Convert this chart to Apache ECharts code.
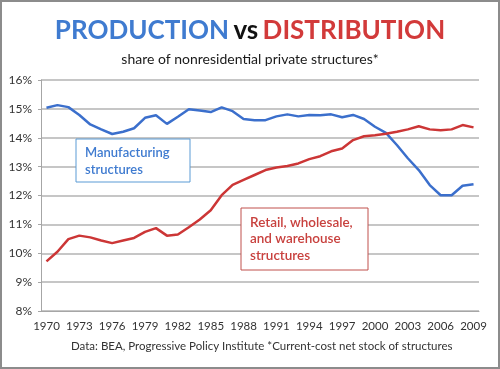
<!DOCTYPE html>
<html>
<head>
<meta charset="utf-8">
<script src="https://cdn.jsdelivr.net/npm/echarts@6/dist/echarts.min.js"></script>
<style>
html,body{margin:0;padding:0;background:#fff;}
#chart{width:500px;height:369px;}
</style>
</head>
<body>
<div id="chart"></div>
<script>
var years = [];
for (var y = 1970; y <= 2009; y++) years.push(String(y));

var manufacturing = [15.04, 15.13, 15.06, 14.79, 14.46, 14.29, 14.13, 14.21, 14.33, 14.69,
  14.78, 14.48, 14.73, 14.99, 14.94, 14.89, 15.05, 14.92, 14.65, 14.61,
  14.61, 14.74, 14.81, 14.74, 14.79, 14.78, 14.81, 14.71, 14.79, 14.65,
  14.38, 14.17, 13.75, 13.29, 12.88, 12.36, 12.01, 12.01, 12.34, 12.39];

var retail = [9.72, 10.05, 10.49, 10.61, 10.55, 10.44, 10.35, 10.44, 10.53, 10.74,
  10.87, 10.61, 10.65, 10.90, 11.17, 11.49, 12.01, 12.37, 12.54, 12.71,
  12.88, 12.97, 13.02, 13.11, 13.26, 13.36, 13.53, 13.63, 13.92, 14.05,
  14.09, 14.14, 14.21, 14.29, 14.40, 14.29, 14.26, 14.29, 14.44, 14.36];

var titleMain = ['PRODUCTION', 'vs', 'DISTRIBUTION'];
var subtitle = 'share of nonresidential private structures*';
var footer = 'Data: BEA, Progressive Policy Institute *Current-cost net stock of structures';
var labelManufacturing = 'Manufacturing\nstructures';
var labelRetail = 'Retail, wholesale,\nand warehouse\nstructures';

var FONT = 'Lato';
var BLUE = '#3b6fcc';
var RED = '#cc3636';

var chart = echarts.init(document.getElementById('chart'));
chart.setOption({
  animation: false,
  backgroundColor: '#fff',
  textStyle: { fontFamily: FONT },
  title: [{
    text: '{b|' + titleMain[0] + '} {k|' + titleMain[1] + '} {r|' + titleMain[2] + '}',
    left: 'center', top: 13,
    textStyle: {
      rich: {
        b: { fontFamily: FONT, fontWeight: 'bold', fontSize: 26, color: '#3f7bd0' },
        k: { fontFamily: FONT, fontWeight: 'bold', fontSize: 26, color: '#111' },
        r: { fontFamily: FONT, fontWeight: 'bold', fontSize: 26, color: '#d23a3a' }
      }
    }
  }, {
    text: subtitle, left: 'center', top: 47,
    textStyle: { fontFamily: FONT, fontWeight: 'normal', fontSize: 14, color: '#1a1a1a' }
  }, {
    text: footer, left: 66, top: 335,
    textStyle: { fontFamily: FONT, fontWeight: 'normal', fontSize: 11.5, color: '#333' }
  }],
  grid: { left: 41, right: 21, top: 80, bottom: 58, containLabel: false },
  xAxis: {
    type: 'category', data: years, boundaryGap: true,
    axisLine: { lineStyle: { color: '#a6a6a6', width: 1 } },
    axisTick: { interval: 0, length: 4, lineStyle: { color: '#a6a6a6' } },
    axisLabel: { interval: 2, color: '#333', fontSize: 11.5, fontFamily: FONT, margin: 9 },
    splitLine: { show: false }
  },
  yAxis: {
    type: 'value', min: 8, max: 16, interval: 1,
    axisLine: { show: true, lineStyle: { color: '#a6a6a6', width: 1 } },
    axisTick: { show: true, length: 3, lineStyle: { color: '#a6a6a6' } },
    axisLabel: { formatter: '{value}%', color: '#333', fontSize: 12, fontFamily: FONT, margin: 9 },
    splitLine: { lineStyle: { color: '#c6c6c6', width: 2 } }
  },
  series: [{
    name: 'Manufacturing structures', type: 'line', data: manufacturing,
    showSymbol: false, smooth: false,
    lineStyle: { color: BLUE, width: 2.5 }, itemStyle: { color: BLUE }
  }, {
    name: 'Retail, wholesale, and warehouse structures', type: 'line', data: retail,
    showSymbol: false, smooth: false,
    lineStyle: { color: RED, width: 2.5 }, itemStyle: { color: RED }
  }],
  graphic: [{
    type: 'rect', shape: { x: 1, y: 1, width: 498, height: 367 },
    style: { fill: 'none', stroke: '#8c8c8c', lineWidth: 2 }, silent: true, z: 100
  }, {
    type: 'rect', shape: { x: 76, y: 139, width: 114, height: 43 }, z: 50,
    style: { fill: '#fff', stroke: '#5b9bd5', lineWidth: 1 }
  }, {
    type: 'text', x: 85, y: 145, z: 51,
    style: { text: labelManufacturing, fill: '#3f7bd0', font: '600 13px Lato', lineHeight: 16.5 }
  }, {
    type: 'rect', shape: { x: 241, y: 208, width: 127, height: 62 }, z: 50,
    style: { fill: '#fff', stroke: '#c0504d', lineWidth: 1 }
  }, {
    type: 'text', x: 250, y: 214, z: 51,
    style: { text: labelRetail, fill: '#c8413e', font: '600 13.5px Lato', lineHeight: 16.5 }
  }]
});
</script>
</body>
</html>
